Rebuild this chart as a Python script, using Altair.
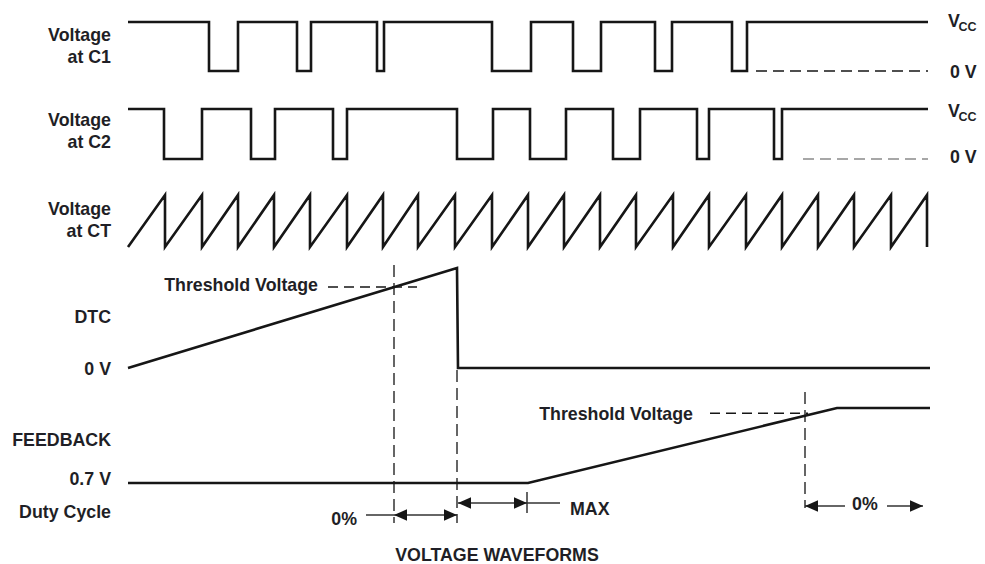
import altair as alt
import pandas as pd

# ---------------- data ----------------
# time axis in arbitrary units: 0 = start of the traces, 800 = end
T_END = 800
c1_edges = [81, 110, 169, 183, 249, 256, 364, 403, 445, 473, 527, 544, 604, 619]
c2_edges = [36, 74, 123, 147, 205, 219, 329, 365, 402, 438, 485, 512, 569, 581, 646, 654]
ct_peaks = [37, 74, 110, 146, 182, 219, 255, 290, 327, 364, 400, 436, 472, 508,
            545, 581, 618, 654, 690, 726, 763, 799]
dtc_times = [0, 329, 330, 802]
dtc_levels = [0.0, 1.0, 0.0, 0.0]
dtc_threshold = 0.81
fb_times = [0, 400, 709, 802]
fb_levels = [0.0, 0.0, 1.0, 1.0]
fb_threshold = 0.93
c1_zero_dash = [628, 800]
c2_zero_dash = [675, 800]
dtc_thr_dash = [200, 289]
fb_thr_dash = [582, 680]
dtc_cross = 266      # DTC ramp meets threshold
dtc_drop = 329       # DTC falls to 0 V
fb_start = 399       # feedback starts to rise (end of MAX)
fb_cross = 677       # feedback meets threshold

left_labels = ["Voltage", "at C1", "Voltage", "at C2", "Voltage", "at CT",
               "DTC", "0 V", "FEEDBACK", "0.7 V", "Duty Cycle"]

# ---------------- layout (page pixels) ----------------
TRACK = {"C1": (71, 49), "C2": (159, 50), "CT": (247, 52), "DTC": (368, 100), "FB": (483, 75)}
INK = "#161616"
TXT = "#1f1f26"
FONT = "Liberation Sans"
FS = 17.8


def ypos(track, level):
    base, amp = TRACK[track]
    return base - level * amp


def step_points(edges, level=1):
    pts = [(0, level)]
    for e in edges:
        pts.append((e, level))
        level = 1 - level
        pts.append((e, level))
    pts.append((T_END, level))
    return pts


def saw_points(peaks):
    pts = [(0, 0)]
    for p in peaks:
        pts += [(p, 1), (p, 0)]
    return pts


rows = []
for name, pts in [("C1", step_points(c1_edges)), ("C2", step_points(c2_edges)),
                  ("CT", saw_points(ct_peaks)),
                  ("DTC", list(zip(dtc_times, dtc_levels))),
                  ("FB", list(zip(fb_times, fb_levels)))]:
    for i, (t, lv) in enumerate(pts):
        rows.append({"series": name, "i": i, "t": t, "y": ypos(name, lv)})
lines_df = pd.DataFrame(rows)

X = alt.X("t:Q", scale=alt.Scale(domain=[-120, 849], nice=False, zero=False), axis=None)
Y = alt.Y("y:Q", scale=alt.Scale(domain=[556, 8], nice=False, zero=False), axis=None)
X2 = alt.X2("t2:Q")
Y2 = alt.Y2("y2:Q")

signals = alt.Chart(lines_df).mark_line(color=INK, strokeWidth=2.6, strokeJoin="miter").encode(
    x=X, y=Y, detail="series:N", order="i:Q")

# dashed rules
zero_black = pd.DataFrame([{"t": c1_zero_dash[0], "t2": c1_zero_dash[1], "y": ypos("C1", 0), "y2": ypos("C1", 0)}])
zero_gray = pd.DataFrame([{"t": c2_zero_dash[0], "t2": c2_zero_dash[1], "y": ypos("C2", 0), "y2": ypos("C2", 0)}])
thr_df = pd.DataFrame([
    {"t": dtc_thr_dash[0], "t2": dtc_thr_dash[1], "y": ypos("DTC", dtc_threshold), "y2": ypos("DTC", dtc_threshold)},
    {"t": fb_thr_dash[0], "t2": fb_thr_dash[1], "y": ypos("FB", fb_threshold), "y2": ypos("FB", fb_threshold)},
])
vert_df = pd.DataFrame([
    {"t": dtc_cross, "t2": dtc_cross, "y": 265, "y2": 523},
    {"t": dtc_drop, "t2": dtc_drop, "y": 370, "y2": 523},
    {"t": fb_cross, "t2": fb_cross, "y": 392, "y2": 508},
])

rule_zero_black = alt.Chart(zero_black).mark_rule(color=INK, strokeWidth=1.5, strokeDash=[11, 6]).encode(x=X, x2=X2, y=Y, y2=Y2)
rule_zero_gray = alt.Chart(zero_gray).mark_rule(color="#8a8a8a", strokeWidth=1.7, strokeDash=[11, 6]).encode(x=X, x2=X2, y=Y, y2=Y2)
rule_thr = alt.Chart(thr_df).mark_rule(color=INK, strokeWidth=1.3, strokeDash=[10, 6]).encode(x=X, x2=X2, y=Y, y2=Y2)
rule_vert = alt.Chart(vert_df).mark_rule(color="#333333", strokeWidth=1.5, strokeDash=[12, 6]).encode(x=X, x2=X2, y=Y, y2=Y2)

# dimension lines
dim_df = pd.DataFrame([
    {"t": 238, "t2": dtc_drop, "y": 515, "y2": 515},
    {"t": dtc_drop + 1, "t2": 432, "y": 503, "y2": 503},
    {"t": fb_start, "t2": fb_start, "y": 492, "y2": 513},
    {"t": fb_cross, "t2": 717, "y": 506, "y2": 506},
    {"t": 759, "t2": 795, "y": 506, "y2": 506},
])
rule_dim = alt.Chart(dim_df).mark_rule(color="#333333", strokeWidth=1.5).encode(x=X, x2=X2, y=Y, y2=Y2)

left_heads = pd.DataFrame([{"t": dtc_cross, "y": 515}, {"t": dtc_drop + 1, "y": 503}, {"t": fb_cross, "y": 506}])
right_heads = pd.DataFrame([{"t": dtc_drop, "y": 515}, {"t": fb_start, "y": 503}, {"t": 795, "y": 506}])
head_l = alt.Chart(left_heads).mark_point(shape="M0,0L2,-0.9L2,0.9Z", size=169, filled=True,
                                          color=INK, opacity=1, strokeWidth=0).encode(x=X, y=Y)
head_r = alt.Chart(right_heads).mark_point(shape="M0,0L-2,-0.9L-2,0.9Z", size=169, filled=True,
                                           color=INK, opacity=1, strokeWidth=0).encode(x=X, y=Y)

# text
left_y = [41, 63, 126, 148, 215, 237, 323, 375, 446, 485, 518]
right_align_df = pd.DataFrame(
    [{"t": -17, "y": yy, "label": s} for s, yy in zip(left_labels, left_y)] + [
        {"t": 190, "y": 291, "label": "Threshold Voltage"},
        {"t": 565, "y": 420, "label": "Threshold Voltage"},
        {"t": 229, "y": 525, "label": "0%"},
    ])
left_align_df = pd.DataFrame([
    {"t": 442, "y": 515, "label": "MAX"},
    {"t": 724, "y": 510, "label": "0%"},
    {"t": 820, "y": 27, "label": "V"},
    {"t": 822, "y": 78, "label": "0 V"},
    {"t": 820, "y": 117, "label": "V"},
    {"t": 822, "y": 163, "label": "0 V"},
])
sub_df = pd.DataFrame([
    {"t": 830.5, "y": 31, "label": "CC"},
    {"t": 830.5, "y": 121, "label": "CC"},
])
title_df = pd.DataFrame([{"t": 369, "y": 561, "label": "VOLTAGE WAVEFORMS"}])

txt_kw = dict(font=FONT, fontWeight="bold", color=TXT, baseline="alphabetic")
t_right = alt.Chart(right_align_df).mark_text(align="right", fontSize=FS, **txt_kw).encode(x=X, y=Y, text="label:N")
t_left = alt.Chart(left_align_df).mark_text(align="left", fontSize=FS, **txt_kw).encode(x=X, y=Y, text="label:N")
t_sub = alt.Chart(sub_df).mark_text(align="left", fontSize=12.5, **txt_kw).encode(x=X, y=Y, text="label:N")
t_title = alt.Chart(title_df).mark_text(align="center", fontSize=FS, **txt_kw).encode(x=X, y=Y, text="label:N")

chart = alt.layer(
    rule_zero_black, rule_zero_gray, rule_thr, rule_vert, rule_dim,
    signals, head_l, head_r, t_right, t_left, t_sub, t_title
).properties(
    width=969, height=548,
    autosize=alt.AutoSizeParams(type="none"),
    padding={"left": 0, "top": 0, "right": 0, "bottom": 8},
    background="white",
).configure_view(stroke=None)

chart.save("out.html", embed_options={"renderer": "svg", "actions": False})
